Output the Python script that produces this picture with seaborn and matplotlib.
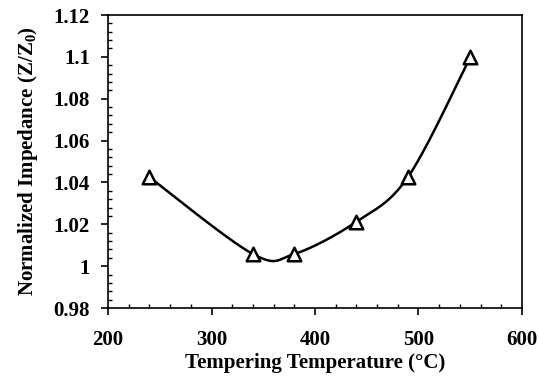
import numpy as np
import pandas as pd
import matplotlib
matplotlib.use("Agg")
import matplotlib.pyplot as plt
import seaborn as sns
from matplotlib.ticker import MultipleLocator

# Data
temperature = [240, 340, 380, 440, 490, 550]
impedance = [1.0425, 1.0058, 1.0058, 1.0212, 1.0427, 1.0998]
x_ticks = [200, 300, 400, 500, 600]
y_ticks = [0.98, 1.0, 1.02, 1.04, 1.06, 1.08, 1.1, 1.12]
y_tick_labels = ["0.98", "1", "1.02", "1.04", "1.06", "1.08", "1.1", "1.12"]

sns.set_theme(style="white")
plt.rcParams["font.family"] = ["Liberation Serif", "DejaVu Serif"]
plt.rcParams["mathtext.fontset"] = "custom"
plt.rcParams["mathtext.rm"] = "Liberation Serif:bold"
plt.rcParams["mathtext.bf"] = "Liberation Serif:bold"
plt.rcParams["mathtext.it"] = "Liberation Serif:bold"

fig = plt.figure(figsize=(5.39, 3.81), dpi=100)
ax = fig.add_axes([0.2004, 0.1916, 0.768, 0.769])

xlim = (200, 600)
ylim = (0.98, 1.12)
W, H = 414.0, 293.0

# Excel-style smoothed line (Bezier through points), computed in screen-like space
px = (np.array(temperature) - xlim[0]) / (xlim[1] - xlim[0]) * W
py = (np.array(impedance) - ylim[0]) / (ylim[1] - ylim[0]) * H
P = np.column_stack([px, py])
curve = []
n = len(P)
t = np.linspace(0, 1, 60)
for i in range(n - 1):
    p0 = P[i - 1] if i > 0 else P[i]
    p1 = P[i]
    p2 = P[i + 1]
    p3 = P[i + 2] if i + 2 < n else P[i + 1]
    c1 = p1 + (p2 - p0) / 6.0
    c2 = p2 - (p3 - p1) / 6.0
    seg = ((1 - t) ** 3)[:, None] * p1 + (3 * (1 - t) ** 2 * t)[:, None] * c1 \
        + (3 * (1 - t) * t ** 2)[:, None] * c2 + (t ** 3)[:, None] * p2
    curve.append(seg if i == 0 else seg[1:])
curve = np.vstack(curve)
cx = curve[:, 0] / W * (xlim[1] - xlim[0]) + xlim[0]
cy = curve[:, 1] / H * (ylim[1] - ylim[0]) + ylim[0]

ax.plot(cx, cy, color="black", linewidth=1.8, zorder=2)
pts = pd.DataFrame({"T": temperature, "Z": impedance})
sns.scatterplot(data=pts, x="T", y="Z", ax=ax, marker="^", s=95,
                facecolor="white", edgecolor="black", linewidth=1.8, zorder=3)

ax.set_xlim(*xlim)
ax.set_ylim(*ylim)
ax.set_xticks(x_ticks)
ax.set_yticks(y_ticks)
ax.set_yticklabels(y_tick_labels)
ax.xaxis.set_minor_locator(MultipleLocator(20))
ax.yaxis.set_minor_locator(MultipleLocator(0.004))
ax.tick_params(axis="both", which="major", direction="out", length=5, width=1.2,
               color="black", labelsize=15, labelcolor="black", pad=3,
               bottom=True, left=True)
ax.tick_params(axis="both", which="minor", direction="in", length=3, width=1.0,
               color="black", bottom=True, left=True)
for lab in ax.get_xticklabels() + ax.get_yticklabels():
    lab.set_fontweight("bold")
ax.tick_params(axis="x", which="major", pad=11)
ax.tick_params(axis="y", which="major", pad=8)

for s in ax.spines.values():
    s.set_visible(True)
    s.set_color("black")
    s.set_linewidth(1.2)

ax.set_xlabel("Tempering Temperature (°C)", fontsize=15, fontweight="bold",
              color="black", labelpad=2)
ax.set_ylabel(r"Normalized Impedance (Z/Z$_{0}$)", fontsize=15,
              fontweight="bold", color="black", labelpad=10)

fig.savefig("out.png", dpi=100, facecolor="white")
